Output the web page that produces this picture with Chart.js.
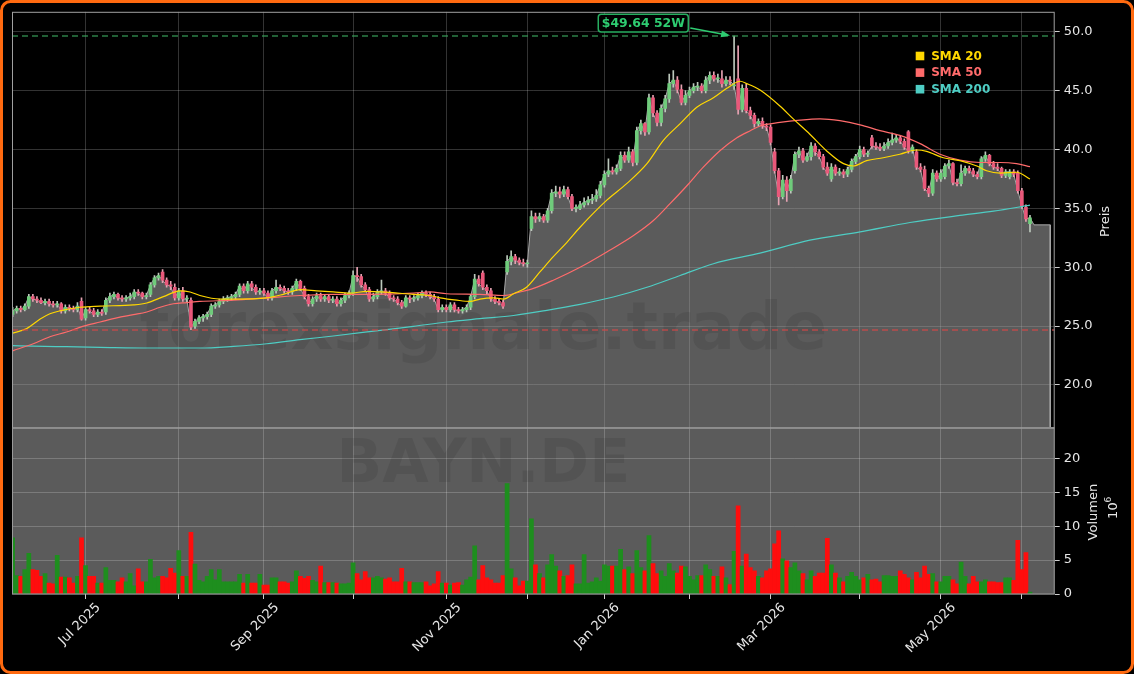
<!DOCTYPE html>
<html>
<head>
<meta charset="utf-8">
<script src="https://cdn.jsdelivr.net/npm/chart.js@4.4.1/dist/chart.umd.min.js"></script>
<style>
html,body{margin:0;padding:0;background:#000;}
#wrap{position:relative;width:1134px;height:674px;}
canvas{display:block;}
</style>
</head>
<body>
<div id="wrap"><canvas id="c" width="1134" height="674"></canvas></div>
<script>
// ---------------- DATA ----------------
// trading-day index 0 = 5 Jun 2025 ... 251 = 3 Jun 2026
const openP = [
26.0,26.3,26.5,26.4,26.7,27.5,27.3,27.2,27.0,27.1,
26.9,26.8,26.9,26.3,26.6,26.5,26.4,27.1,25.7,26.4,
26.3,26.0,26.2,26.2,27.2,27.5,27.7,27.4,27.3,27.4,
27.5,27.9,27.8,27.5,27.7,28.5,29.1,29.6,28.9,28.5,
28.3,27.4,28.0,27.3,27.2,25.0,25.4,25.7,25.8,26.0,
26.7,26.8,27.1,27.3,27.4,27.5,27.7,28.4,28.0,28.6,
28.3,27.9,28.0,27.8,27.4,28.0,28.3,28.2,28.0,27.9,
28.2,28.8,28.2,27.5,26.9,27.3,27.6,27.3,27.5,27.2,
27.3,26.9,27.2,27.6,27.8,29.3,29.2,28.5,28.1,27.3,
27.5,27.9,28.0,27.8,27.4,27.3,27.0,26.7,27.4,27.3,
27.4,27.6,27.8,27.7,27.5,27.3,26.4,26.6,26.4,26.8,
26.4,26.3,26.4,26.6,27.5,29.0,29.5,28.3,28.0,27.3,
27.1,27.0,29.6,30.5,30.9,30.6,30.4,30.3,33.3,34.3,
34.1,34.3,34.0,34.8,36.3,36.4,36.2,36.6,36.0,35.0,
35.0,35.3,35.5,35.7,35.8,36.1,37.0,37.9,38.2,38.1,
38.4,39.5,39.1,39.8,38.9,41.6,42.2,41.5,44.4,43.1,
42.3,43.5,44.3,45.6,45.9,45.1,44.0,44.6,45.0,45.3,
45.4,45.0,45.9,46.3,46.0,46.0,45.6,45.9,45.4,46.0,
43.4,45.2,43.3,42.9,42.2,42.4,42.0,41.9,39.8,38.2,
36.0,37.4,36.5,38.2,39.6,39.9,39.1,39.4,40.3,39.8,
39.4,38.5,37.5,38.5,38.0,38.1,37.9,38.3,39.0,39.4,
40.0,39.6,41.0,40.3,40.2,40.1,40.3,40.6,40.8,41.0,
40.7,41.5,39.9,39.8,38.5,38.3,36.7,36.3,38.0,37.5,
37.7,38.6,38.8,37.2,37.1,38.0,38.4,38.2,37.9,37.7,
39.2,39.5,38.8,38.5,38.4,37.8,37.7,38.1,38.0,36.5,
35.1,33.7];
const highP = [
26.6,26.7,26.7,26.9,27.7,27.7,27.5,27.4,27.3,27.3,
27.1,27.1,27.0,26.8,26.8,26.7,27.0,27.4,26.6,26.6,
26.5,26.4,26.4,27.4,27.8,27.9,27.8,27.6,27.6,27.8,
28.1,28.1,27.9,27.8,28.7,29.3,29.5,29.8,29.1,28.8,
28.6,28.2,28.3,27.6,27.4,25.6,25.9,26.0,26.2,26.9,
27.0,27.3,27.5,27.6,27.7,27.9,28.6,28.6,28.8,28.8,
28.5,28.2,28.2,28.0,28.2,28.9,28.5,28.4,28.2,28.4,
29.0,28.9,28.4,27.7,27.5,27.8,27.8,27.7,27.7,27.5,
27.5,27.4,27.8,28.0,29.7,30.0,29.4,28.7,28.3,27.8,
28.1,28.9,28.2,28.0,27.6,27.5,27.2,27.6,27.6,27.6,
27.8,28.0,28.0,27.9,27.7,27.5,26.8,26.8,27.0,27.0,
26.6,26.6,26.8,27.7,29.4,29.3,29.7,28.5,28.2,27.5,
27.3,27.2,31.0,31.4,31.1,30.8,30.7,30.6,34.8,34.6,
34.6,34.5,35.0,36.6,36.9,36.8,36.9,36.8,36.2,35.3,
35.6,35.9,36.0,36.2,36.6,37.3,38.2,39.2,38.5,38.7,
39.8,39.8,40.2,40.0,41.9,42.5,42.3,44.7,44.6,43.3,
43.8,44.6,46.4,46.7,46.2,45.5,45.0,45.3,45.6,45.7,
45.6,46.2,46.6,46.6,46.4,46.7,46.2,46.2,49.64,48.8,
45.5,45.6,43.6,43.1,42.6,42.7,42.2,42.1,40.1,38.4,
37.8,37.7,37.8,39.8,40.2,40.1,39.7,40.6,40.5,40.0,
39.6,38.9,38.8,38.7,38.4,38.3,38.5,39.2,39.6,40.3,
40.2,39.9,41.2,40.6,40.5,40.6,40.9,41.4,41.3,41.2,
40.9,41.6,40.4,40.0,38.8,38.6,36.9,38.3,38.2,38.3,
38.8,39.1,38.9,37.5,38.7,38.6,38.6,38.4,38.1,39.4,
39.8,39.6,39.0,38.8,38.5,38.3,38.3,38.3,38.2,36.7,
35.3,34.4];
const lowP = [
25.8,26.1,26.2,26.3,26.5,27.1,27.0,26.9,26.8,26.7,
26.6,26.6,26.1,26.1,26.3,26.2,26.2,25.5,25.5,26.1,
25.8,25.8,25.9,26.0,27.0,27.3,27.2,27.1,27.1,27.2,
27.3,27.6,27.3,27.3,27.5,28.3,28.9,28.7,28.3,28.1,
27.2,27.2,27.1,27.0,24.7,24.8,25.2,25.4,25.6,25.8,
26.5,26.6,26.9,27.1,27.2,27.3,27.5,27.8,27.8,28.0,
27.7,27.7,27.6,27.2,27.2,27.8,28.0,27.8,27.7,27.7,
28.0,28.0,27.3,26.7,26.7,27.1,27.1,27.1,27.0,27.0,
26.7,26.7,27.0,27.4,27.6,28.8,28.3,27.9,27.1,27.1,
27.3,27.7,27.6,27.2,27.1,26.8,26.5,26.6,27.0,27.1,
27.2,27.4,27.5,27.3,27.1,26.2,26.2,26.2,26.2,26.2,
26.1,26.1,26.2,26.4,27.3,28.4,28.1,27.7,27.1,26.9,
26.8,26.5,29.4,30.2,30.3,30.2,30.1,30.0,33.1,33.8,
33.9,33.8,33.8,34.6,36.0,35.9,36.0,35.8,34.8,34.7,
34.9,35.1,35.3,35.4,35.6,35.9,36.8,37.7,37.9,37.9,
38.2,38.9,38.9,38.6,38.7,41.3,41.2,41.3,42.8,42.0,
42.0,43.2,44.0,45.3,44.8,43.8,43.8,44.4,44.8,45.0,
44.8,44.8,45.6,45.8,45.7,45.3,45.4,45.5,45.1,43.0,
43.2,43.1,42.6,41.9,42.0,41.8,41.6,40.4,38.0,35.3,
35.8,35.6,36.3,38.0,39.3,38.9,39.0,39.1,39.5,39.2,
38.3,37.8,37.3,37.8,37.8,37.6,37.7,38.1,38.8,39.2,
39.4,39.4,40.1,40.0,39.9,39.9,40.1,40.4,40.6,40.5,
40.0,39.7,39.7,38.3,38.1,36.5,36.0,36.1,37.3,37.3,
37.5,38.4,37.0,36.9,36.9,37.8,38.0,37.7,37.5,37.5,
39.0,38.6,38.3,38.2,37.6,37.6,37.5,37.7,36.3,35.0,
33.9,33.0];
const closeP = [
26.3,26.5,26.4,26.7,27.5,27.3,27.2,27.0,27.1,26.9,
26.8,26.9,26.3,26.6,26.5,26.4,26.7,25.6,26.4,26.3,
26.0,26.2,26.1,27.2,27.5,27.7,27.4,27.3,27.4,27.5,
27.9,27.8,27.5,27.6,28.5,29.1,29.3,28.9,28.5,28.4,
27.4,28.0,27.3,27.3,24.9,25.4,25.7,25.8,26.0,26.7,
26.8,27.1,27.3,27.4,27.5,27.7,28.4,28.0,28.6,28.3,
27.9,28.0,27.8,27.4,28.0,28.3,28.2,28.0,27.9,28.2,
28.8,28.2,27.5,26.9,27.3,27.6,27.3,27.5,27.2,27.3,
26.9,27.2,27.6,27.8,29.3,29.2,28.5,28.1,27.3,27.5,
27.9,28.0,27.8,27.4,27.3,27.0,26.7,27.4,27.3,27.4,
27.6,27.8,27.7,27.5,27.3,26.4,26.6,26.4,26.8,26.4,
26.3,26.4,26.6,27.5,29.0,28.6,28.3,28.0,27.3,27.1,
27.0,26.7,30.5,30.9,30.6,30.4,30.3,30.3,34.3,34.1,
34.3,34.0,34.8,36.3,36.4,36.2,36.6,36.0,35.0,35.0,
35.3,35.5,35.7,35.8,36.1,37.0,37.9,38.2,38.1,38.4,
39.5,39.1,39.8,38.9,41.6,42.2,41.5,44.4,43.1,42.3,
43.5,44.3,45.6,45.9,45.1,44.0,44.6,45.0,45.3,45.4,
45.0,45.9,46.3,46.0,46.0,45.6,45.9,45.8,45.5,43.4,
45.2,43.3,42.9,42.2,42.4,42.0,41.9,40.6,38.2,36.0,
37.4,36.5,37.5,39.6,39.9,39.1,39.4,40.3,39.8,39.4,
38.5,38.0,38.5,38.0,38.1,37.9,38.3,39.0,39.4,40.0,
39.6,39.7,40.3,40.2,40.1,40.3,40.6,40.8,41.0,40.7,
40.2,39.9,40.2,38.5,38.3,36.7,36.3,38.0,37.5,38.0,
38.6,38.8,37.2,37.1,38.0,38.4,38.2,37.9,37.7,39.2,
39.5,38.8,38.5,38.4,37.8,38.1,38.1,37.9,36.5,35.2,
34.1,34.2];
// volume in millions
const volumeM = [
8.3,2.7,2.6,3.6,6.0,3.6,3.5,2.6,3.0,1.6,
1.5,5.7,2.5,2.5,2.4,1.6,2.6,8.3,4.2,2.6,
2.6,1.6,1.6,3.9,2.0,2.0,1.8,2.4,1.8,3.0,
1.2,3.7,1.8,1.8,5.1,2.4,2.6,2.6,2.4,3.8,
3.1,6.4,2.6,2.6,9.1,4.4,2.0,1.8,2.6,3.6,
2.1,3.6,1.8,1.8,1.8,1.8,2.9,1.6,2.9,1.6,
1.6,2.9,1.3,1.3,2.4,2.4,1.8,1.8,1.6,1.8,
3.4,2.6,2.3,2.6,2.0,1.8,4.1,1.7,1.7,1.7,
1.6,1.5,1.5,1.6,4.6,3.0,2.1,3.3,2.4,2.4,
2.6,2.4,2.2,2.4,1.8,1.8,3.8,1.8,1.8,1.7,
1.7,1.7,1.8,1.2,1.5,3.3,1.6,1.6,1.3,1.6,
1.7,1.3,2.1,2.5,7.1,2.1,4.2,2.4,2.1,1.6,
1.6,2.7,16.3,3.7,2.4,1.2,1.9,1.9,11.1,4.3,
3.0,2.4,4.3,5.8,4.1,3.4,2.6,2.7,4.3,1.5,
1.5,5.8,1.6,1.8,2.4,1.9,4.3,4.1,4.1,4.1,
6.6,3.6,4.0,3.0,6.4,3.9,3.4,8.6,4.5,3.0,
3.4,2.6,4.5,3.4,3.1,4.1,4.0,2.6,2.1,2.7,
2.7,4.3,3.6,2.6,2.6,4.0,2.4,1.4,6.3,13.0,
4.1,5.9,3.9,3.4,2.6,2.4,3.4,3.7,7.4,9.3,
5.2,4.9,3.9,4.6,3.4,3.0,2.1,3.4,2.6,3.1,
3.1,8.2,4.3,3.1,2.4,1.8,2.6,3.2,2.6,2.1,
2.4,2.9,2.1,2.2,1.8,2.7,2.7,2.6,2.6,3.4,
2.9,2.4,2.1,3.2,2.4,4.1,2.9,3.0,1.8,1.8,
2.6,2.6,2.1,1.5,4.7,2.6,1.5,2.6,1.8,1.8,
2.1,1.8,1.8,1.7,1.7,2.4,2.4,2.0,7.9,3.6,
6.1,0.3];
// moving averages read at sample positions (trading-day index)
const sma20X = [0,3.5,6.8,9.2,11.7,16.6,21.6,29.8,33.1,37.2,41.3,43.8,46.2,51.2,54.5,62.7,66.8,70.9,75,79.1,83.2,87.4,90.7,98.9,103,105.5,109.6,112.9,115.3,118.6,121.1,123.6,126.8,130.1,133.4,136.7,140,146.6,151.5,156.5,160.6,164.7,168.8,172.9,176.2,179.5,181.1,184.4,189.3,192.6,196.7,200.8,205,207.4,210.7,214.8,218.9,223,225.5,229.6,233.7,237.9,240.3,243.6,247.7,251];
const sma20Y = [24.4,24.8,25.6,26.05,26.3,26.6,26.7,26.8,26.96,27.5,28.0,27.9,27.6,27.3,27.3,27.4,27.7,28.1,28.0,27.9,27.8,27.95,27.9,27.7,27.6,27.4,27.2,27.1,27.3,27.4,27.3,27.75,28.3,29.6,30.9,32.1,33.4,35.7,37.1,38.8,40.8,42.2,43.6,44.4,45.2,45.8,45.6,45.05,43.7,42.6,41.3,39.9,38.8,38.6,39.06,39.3,39.6,39.96,39.85,39.3,39.06,38.6,38.2,38.0,38.07,37.5];
const sma50X = [0,5.1,9.2,13.3,17.5,21.6,25.7,29.8,33.1,36.4,39.7,43,46.2,54.5,62.7,70.9,79.1,87.4,98.9,103,107.1,115.3,121.1,125.2,128.5,133.4,140,146.6,153.2,158.1,162.2,166.3,170.4,174.5,178.7,182,184.4,189.3,194.3,199.2,204.1,209.1,214,218.9,223.9,228.8,233.7,238.7,243.6,247.7,251];
const sma50Y = [22.9,23.5,24.1,24.5,25.0,25.35,25.7,25.97,26.2,26.6,26.9,27.0,27.1,27.2,27.4,27.6,27.7,27.7,27.8,27.9,27.75,27.7,27.6,27.9,28.2,28.9,30.0,31.3,32.7,33.97,35.4,36.9,38.5,39.9,41.0,41.6,42.0,42.3,42.5,42.6,42.45,42.1,41.6,41.2,40.5,39.6,39.1,38.9,38.9,38.8,38.55];
const sma200X = [0,5.1,13.3,21.6,33.9,46.2,54.5,62.7,70.9,79.1,90.7,98.9,107.1,115.3,123.6,131.8,140,148.2,156.5,164.7,172.9,184.4,196.7,209.1,221.4,233.7,242,251];
const sma200Y = [23.34,23.3,23.25,23.2,23.14,23.14,23.28,23.5,23.85,24.16,24.64,24.98,25.35,25.63,25.9,26.34,26.85,27.47,28.3,29.3,30.3,31.2,32.3,33.0,33.8,34.4,34.76,35.27];
// grey price area: extension after the last session
const areaTailX = [252, 256, 256];
const areaTailY = [33.6, 33.6, 16.41];
// month ticks (first trading day of each month)
const monthTickIdx = [18,41,62,84,107,127,146,167,187,209,229,249];
const monthTickLabels = ['Jul 2025','','Sep 2025','','Nov 2025','','Jan 2026','','Mar 2026','','May 2026',''];
const priceTicks = [20,25,30,35,40,45,50];
const volTicks = [0,5,10,15,20];
const HIGH_52W = 49.64;
const LOW_52W = 24.67;
const HIGH_LABEL = '$49.64 52W';
const TICKER = 'BAYN.DE';
const WATERMARK = 'forexsignale.trade';
const legendNames = ['SMA 20','SMA 50','SMA 200'];

// ---------------- STYLE ----------------
const X_MIN = -0.15, X_MAX = 257.1;
const P_MIN = 16.41, P_MAX = 51.70;
const V_MAX = 24.6;
const C20 = '#FFD700', C50 = '#FF6B6B', C200 = '#4ECDC4';
const PANEL_GRAY = '#5b5b5b';
const GRID = 'rgba(255,255,255,0.2)';
const TXT = '#e6e6e6';
const FONT = 'DejaVu Sans';
const UP_BODY = '#6fcb7b', DN_BODY = '#e9587a';
const UP_WICK = '#bcc8bc', DN_WICK = '#e6a2b2';
const VOL_UP = '#1e8e1e', VOL_DN = '#ff0d0d';

Chart.defaults.font.family = FONT;

const idx = closeP.map((_, i) => i);
const up = idx.map(i => closeP[i] >= openP[i]);
const pts = (xs, ys) => xs.map((x, k) => ({x, y: ys[k]}));
const highIdx = highP.indexOf(Math.max(...highP));

const decor = {
  id: 'decor',
  beforeDraw(chart) {
    const {ctx, chartArea: ca, scales} = chart;
    ctx.save();
    ctx.fillStyle = '#000';
    ctx.fillRect(0, 0, chart.width, chart.height);
    const v = scales.yVol;
    ctx.fillStyle = PANEL_GRAY;
    ctx.fillRect(ca.left, v.top, ca.right - ca.left, v.bottom - v.top);
    ctx.restore();
  },
  afterDatasetDraw(chart, args) {
    if (args.meta.label !== 'Kurs') return;
    const {ctx, chartArea: ca, scales} = chart;
    ctx.save();
    ctx.textAlign = 'center';
    ctx.textBaseline = 'alphabetic';
    ctx.fillStyle = 'rgba(0,0,0,0.085)';
    const cx = ca.left + (ca.right - ca.left) * 0.452;
    ctx.font = 'bold 66px "DejaVu Sans"';
    ctx.fillText(WATERMARK, cx, scales.y.top + 337);
    ctx.font = 'bold 60px "DejaVu Sans"';
    ctx.fillText(TICKER, cx, scales.yVol.top + 55);
    ctx.restore();
  },
  afterDatasetsDraw(chart) {
    const {ctx, chartArea: ca, scales} = chart;
    ctx.save();
    ctx.strokeStyle = '#a0a0a0';
    ctx.lineWidth = 1;
    const p = scales.y, v = scales.yVol;
    ctx.strokeRect(ca.left + 0.5, p.top + 0.5, ca.right - ca.left - 1, p.bottom - p.top);
    ctx.strokeStyle = '#9a9a9a';
    ctx.strokeRect(ca.left + 0.5, v.top + 1, ca.right - ca.left - 1, v.bottom - v.top - 1);
    ctx.restore();
  },
  afterDraw(chart) {
    const {ctx, chartArea: ca, scales} = chart;
    ctx.save();
    // legend
    ctx.font = 'bold 12px "DejaVu Sans"';
    ctx.textAlign = 'left';
    ctx.textBaseline = 'middle';
    [C20, C50, C200].forEach((c, k) => {
      const cy = ca.top + 44.2 + k * 16.6;
      ctx.fillStyle = c;
      ctx.fillRect(ca.right - 139, cy - 4.3, 8.6, 8.6);
      ctx.fillText(legendNames[k], ca.right - 123.5, cy + 0.5);
    });
    // 52W high annotation
    const px = scales.x.getPixelForValue(highIdx);
    const py = scales.y.getPixelForValue(HIGH_52W);
    ctx.font = 'bold 12.4px "DejaVu Sans"';
    const tw = ctx.measureText(HIGH_LABEL).width;
    const bw = tw + 7, bh = 17.7;
    const bx = px - 90.8 - bw / 2, by = py - 13 - bh / 2;
    ctx.beginPath();
    ctx.roundRect(bx, by, bw, bh, 3);
    ctx.fillStyle = '#000';
    ctx.fill();
    ctx.lineWidth = 1.5;
    ctx.strokeStyle = '#27ae60';
    ctx.stroke();
    ctx.fillStyle = '#2ecc71';
    ctx.textAlign = 'center';
    ctx.fillText(HIGH_LABEL, bx + bw / 2, by + bh / 2 + 0.5);
    // arrow
    const ax0 = bx + bw + 2, ay0 = by + bh / 2 + 5;
    const ax1 = px - 4, ay1 = py - 0.5;
    const ang = Math.atan2(ay1 - ay0, ax1 - ax0);
    ctx.strokeStyle = '#2ecc71';
    ctx.fillStyle = '#2ecc71';
    ctx.lineWidth = 1.6;
    ctx.beginPath();
    ctx.moveTo(ax0, ay0);
    ctx.lineTo(ax1 - 7 * Math.cos(ang), ay1 - 7 * Math.sin(ang));
    ctx.stroke();
    ctx.beginPath();
    ctx.moveTo(ax1, ay1);
    ctx.lineTo(ax1 - 9 * Math.cos(ang) + 3.5 * Math.sin(ang), ay1 - 9 * Math.sin(ang) - 3.5 * Math.cos(ang));
    ctx.lineTo(ax1 - 9 * Math.cos(ang) - 3.5 * Math.sin(ang), ay1 - 9 * Math.sin(ang) + 3.5 * Math.cos(ang));
    ctx.closePath();
    ctx.fill();
    // axis titles (matplotlib-style, reading upwards)
    ctx.fillStyle = TXT;
    ctx.font = '13px "DejaVu Sans"';
    ctx.textAlign = 'center';
    ctx.textBaseline = 'middle';
    const p = scales.y, v = scales.yVol;
    ctx.save();
    ctx.translate(ca.right + 51, (p.top + p.bottom) / 2 + 2);
    ctx.rotate(-Math.PI / 2);
    ctx.fillText('Preis', 0, 0);
    ctx.restore();
    ctx.save();
    ctx.translate(ca.right + 38.5, (v.top + v.bottom) / 2 + 1.5);
    ctx.rotate(-Math.PI / 2);
    ctx.fillText('Volumen', 0, 0);
    ctx.restore();
    ctx.save();
    ctx.translate(ca.right + 58.5, (v.top + v.bottom) / 2 - 2);
    ctx.rotate(-Math.PI / 2);
    ctx.textAlign = 'center';
    ctx.fillText('10', -2, 0);
    ctx.font = '9px "DejaVu Sans"';
    ctx.fillText('6', 9, -5);
    ctx.restore();
    // outer frame
    ctx.strokeStyle = '#ff6a10';
    ctx.lineWidth = 3;
    ctx.beginPath();
    ctx.roundRect(1.5, 1.5, chart.width - 3, chart.height - 3, 9);
    ctx.stroke();
    ctx.restore();
  }
};

const tickFont = {family: FONT, size: 13};

new Chart(document.getElementById('c'), {
  type: 'line',
  data: {
    datasets: [
      {
        type: 'line', label: 'Kurs', xAxisID: 'x', yAxisID: 'y',
        data: idx.map(i => ({x: i, y: closeP[i]})).concat(pts(areaTailX, areaTailY)),
        borderColor: '#a9a9a9', borderWidth: 1,
        backgroundColor: 'rgba(160,160,160,0.57)', fill: 'start',
        pointRadius: 0, tension: 0, order: 20
      },
      {
        type: 'bar', label: 'Docht', xAxisID: 'x', yAxisID: 'y',
        data: idx.map(i => ({x: i, y: [lowP[i], highP[i]]})),
        backgroundColor: idx.map(i => up[i] ? UP_WICK : DN_WICK),
        barThickness: 1, grouped: false, order: 15
      },
      {
        type: 'bar', label: 'Kerze', xAxisID: 'x', yAxisID: 'y',
        data: idx.map(i => ({x: i, y: [openP[i], closeP[i]]})),
        backgroundColor: idx.map(i => up[i] ? UP_BODY : DN_BODY),
        barThickness: 3, minBarLength: 1, grouped: false, order: 14
      },
      {
        type: 'bar', label: 'Volumen', xAxisID: 'x', yAxisID: 'yVol',
        data: idx.map(i => ({x: i, y: volumeM[i]})),
        backgroundColor: idx.map(i => up[i] ? VOL_UP : VOL_DN),
        barPercentage: 1, categoryPercentage: 1, grouped: false, order: 10
      },
      {
        type: 'line', label: 'SMA 200', xAxisID: 'x', yAxisID: 'y',
        data: pts(sma200X, sma200Y), borderColor: C200, borderWidth: 1.2,
        pointRadius: 0, cubicInterpolationMode: 'monotone', order: 5
      },
      {
        type: 'line', label: 'SMA 50', xAxisID: 'x', yAxisID: 'y',
        data: pts(sma50X, sma50Y), borderColor: C50, borderWidth: 1.2,
        pointRadius: 0, cubicInterpolationMode: 'monotone', order: 4
      },
      {
        type: 'line', label: 'SMA 20', xAxisID: 'x', yAxisID: 'y',
        data: pts(sma20X, sma20Y), borderColor: C20, borderWidth: 1.2,
        pointRadius: 0, cubicInterpolationMode: 'monotone', order: 3
      },
      {
        type: 'line', label: '52W Hoch', xAxisID: 'x', yAxisID: 'y',
        data: [{x: X_MIN, y: HIGH_52W}, {x: X_MAX, y: HIGH_52W}],
        borderColor: 'rgba(60,170,95,0.75)', borderWidth: 1.5, borderDash: [6, 4],
        pointRadius: 0, order: 2
      },
      {
        type: 'line', label: '52W Tief', xAxisID: 'x', yAxisID: 'y',
        data: [{x: X_MIN, y: LOW_52W}, {x: X_MAX, y: LOW_52W}],
        borderColor: 'rgba(215,70,70,0.75)', borderWidth: 1.5, borderDash: [6, 4],
        pointRadius: 0, order: 2
      }
    ]
  },
  options: {
    responsive: false,
    animation: false,
    devicePixelRatio: 1,
    layout: {padding: {left: 12, top: 11, right: 0, bottom: 0}},
    plugins: {legend: {display: false}, tooltip: {enabled: false}},
    scales: {
      x: {
        type: 'linear', position: 'bottom', min: X_MIN, max: X_MAX, offset: false,
        afterBuildTicks: s => { s.ticks = monthTickIdx.map(v => ({value: v})); },
        afterFit: s => { s.height = 80; },
        grid: {color: GRID, lineWidth: 1, drawTicks: true, tickLength: 5, tickColor: '#cfcfcf', offset: false},
        border: {display: false},
        ticks: {
          autoSkip: false, minRotation: 45, maxRotation: 45, labelOffset: 13, padding: 1,
          color: TXT, font: tickFont,
          callback: (v, k) => monthTickLabels[k]
        }
      },
      y: {
        type: 'linear', position: 'right', min: P_MIN, max: P_MAX,
        stack: 'pv', stackWeight: 416, offset: false,
        afterBuildTicks: s => { s.ticks = priceTicks.map(v => ({value: v})); },
        afterFit: s => { s.width = 79.3; },
        grid: {color: GRID, drawTicks: true, tickLength: 5, tickColor: '#cfcfcf'},
        border: {display: false},
        ticks: {color: TXT, font: tickFont, padding: 4, callback: v => v.toFixed(1)}
      },
      yVol: {
        type: 'linear', position: 'right', min: 0, max: V_MAX,
        stack: 'pv', stackWeight: 167, offset: false,
        afterBuildTicks: s => { s.ticks = volTicks.map(v => ({value: v})); },
        afterFit: s => { s.width = 79.3; },
        grid: {color: GRID, drawTicks: true, tickLength: 5, tickColor: '#cfcfcf'},
        border: {display: false},
        ticks: {color: TXT, font: tickFont, padding: 4, callback: v => String(v)}
      }
    }
  },
  plugins: [decor]
});
</script>
</body>
</html>
